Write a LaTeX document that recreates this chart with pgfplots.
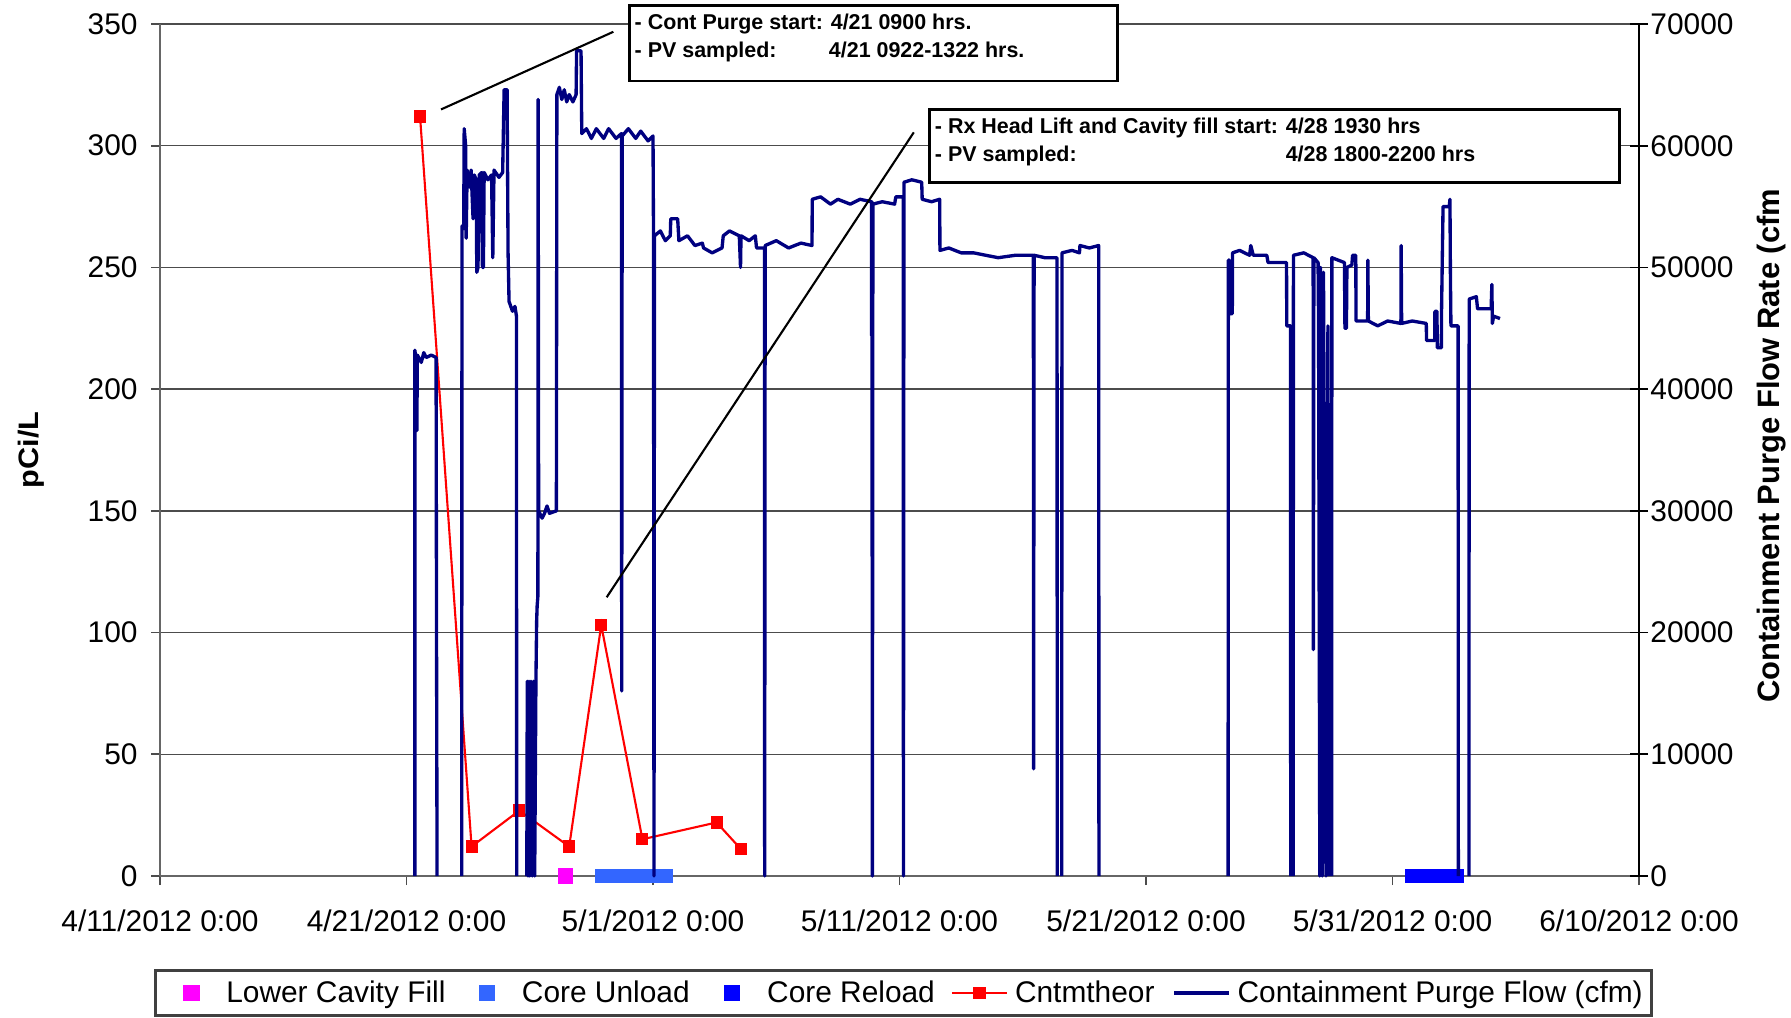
\documentclass[border=0pt]{standalone}
\usepackage{pgfplots}
\pgfplotsset{compat=1.18}
\usepackage{fontspec}
\setmainfont{Liberation Sans}
\definecolor{navyflow}{RGB}{0,0,128}
\definecolor{cunload}{RGB}{51,102,255}
\definecolor{creload}{RGB}{0,0,255}
\definecolor{lcf}{RGB}{255,0,255}
\definecolor{cred}{RGB}{255,0,0}

\pgfplotstableread{
d flow
10.34 0
10.34 43200
10.37 42600
10.40 42800
10.42 36600
10.44 42800
10.60 42200
10.70 43000
10.80 42600
11.00 42800
11.20 42600
11.22 17800
11.24 0
11.25 nan
12.24 0
12.25 53400
12.32 53200
12.34 61400
12.40 60000
12.42 52400
12.46 58000
12.55 56600
12.62 58000
12.70 54000
12.75 57600
12.83 57200
12.85 49600
12.90 50000
12.95 57600
13.05 57800
13.08 50000
13.12 50000
13.15 57800
13.30 57200
13.45 57600
13.50 50800
13.55 58000
13.75 57400
13.90 57800
13.96 64600
14.08 64600
14.12 51200
14.16 47200
14.30 46400
14.40 46800
14.46 46000
14.47 0
14.48 nan
14.88 0
14.90 16000
14.93 0
14.97 16000
15.00 0
15.05 16000
15.10 0
15.15 16000
15.20 0
15.25 16000
15.28 21000
15.30 22200
15.33 23000
15.34 63800
15.36 30000
15.50 29400
15.60 29800
15.70 30400
15.80 29800
16.08 30000
16.10 64200
16.20 64800
16.30 63800
16.40 64600
16.50 63600
16.60 64200
16.75 63600
16.88 64200
16.90 67800
17.08 67800
17.11 61000
17.30 61400
17.50 60600
17.70 61400
18.00 60600
18.20 61400
18.50 60600
18.72 61000
18.73 15200
18.75 60800
19.00 61400
19.30 60600
19.50 61200
19.80 60400
20.00 60800
20.02 52800
20.04 0
20.06 52600
20.30 53000
20.50 52200
20.70 52600
20.72 54000
21.00 54000
21.05 52200
21.40 52600
21.70 51800
22.00 52000
22.05 51600
22.40 51200
22.80 51600
22.85 52600
23.10 53000
23.50 52600
23.55 50000
23.57 52600
23.90 52200
24.15 52600
24.20 51600
24.52 51600
24.53 0
24.55 51800
25.00 52200
25.50 51600
26.00 52000
26.45 51800
26.46 55600
26.80 55800
27.20 55200
27.50 55600
28.00 55200
28.40 55600
28.86 55400
28.87 44400
28.88 55400
28.90 0
28.92 55200
29.30 55400
29.80 55200
29.85 55800
30.15 55800
30.16 0
30.18 57000
30.50 57200
30.90 57000
30.92 55600
31.30 55400
31.63 55600
31.64 51400
32.00 51600
32.50 51200
33.00 51200
33.50 51000
34.00 50800
34.70 51000
35.43 51000
35.44 8800
35.46 51000
35.90 50800
36.39 50800
36.40 0
36.41 nan
36.58 0
36.59 51200
37.00 51400
37.30 51200
37.32 51800
37.70 51600
38.08 51800
38.09 0
38.10 nan
43.33 0
43.34 50600
43.38 50600
43.39 46200
43.50 46200
43.51 51200
43.80 51400
44.20 51000
44.25 51800
44.35 51000
44.90 51000
44.95 50400
45.70 50400
45.71 45200
45.86 45200
45.87 0
45.88 nan
45.97 0
45.98 51000
46.40 51200
46.78 50800
46.79 18600
46.81 50800
46.98 50400
47.00 45200
47.05 0
47.08 50000
47.15 0
47.20 49600
47.30 0
47.38 45200
47.42 0
47.43 nan
47.53 0
47.54 50800
48.05 50400
48.07 45000
48.13 45000
48.15 50000
48.35 50200
48.38 51000
48.51 51000
48.52 45600
48.99 45600
49.00 50600
49.02 45600
49.40 45200
49.80 45600
50.34 45400
50.35 51800
50.37 45400
50.80 45600
51.37 45400
51.38 44000
51.71 44000
51.72 46400
51.80 46400
51.82 43400
51.98 43400
51.99 46600
52.05 55000
52.30 55000
52.33 55600
52.35 49000
52.37 45200
52.66 45200
52.67 0
52.68 nan
53.10 0
53.11 47400
53.40 47600
53.45 46600
54.00 46600
54.03 48600
54.05 45400
54.10 46000
54.36 45800
}\flowtable

\pgfplotsset{
  markleg/.style={legend image code/.code={\path[draw=none,fill=none] (0cm,0cm) -- (0.35cm,0cm); \draw[##1] plot coordinates {(0cm,0cm)};}},
  markleg first/.style={legend image code/.code={\path[draw=none,fill=none] (-0.27cm,0cm) -- (0.35cm,0cm); \draw[##1] plot coordinates {(0cm,0cm)};}},
  lineleg/.style={legend image code/.code={\draw[mark repeat=2, mark phase=2, ##1] plot coordinates {(0cm,0cm)(0.275cm,0cm)(0.55cm,0cm)};}},
  base/.style={width=14.79cm, height=8.52cm, scale only axis, xmin=0, xmax=60,
    at={(0,0)}, anchor=south west,
    /pgf/number format/assume math mode=true,
    /pgf/number format/1000 sep={},
    tick label style={font=\fontsize{8.5}{10}\selectfont},
  },
}

\begin{document}
\begin{tikzpicture}
\begin{axis}[base,
  ymin=0, ymax=350, ytick={0,50,...,350},
  axis x line*=bottom, axis y line*=left,
  axis line style={black!60, line width=0.8pt},
  xtick={0,10,...,60},
  xticklabels={4/11/2012 0:00, 4/21/2012 0:00, 5/1/2012 0:00, 5/11/2012 0:00, 5/21/2012 0:00, 5/31/2012 0:00, 6/10/2012 0:00},
  tick align=outside, major tick length=0.09cm,
  tick style={black!70, line width=0.5pt},
  xticklabel style={yshift=-0.12cm},
  yticklabel style={xshift=-0.01cm},
  ymajorgrids, major grid style={black!70, line width=0.4pt},
  clip=false,
  ylabel={\scalebox{1.09}[1]{pCi/L}},
  ylabel style={at={(axis description cs:-0.0872,0.5)}, anchor=center, inner sep=0pt, font=\fontsize{8}{9}\selectfont\bfseries},
  legend columns=-1,
  legend style={at={(-0.0041,-0.109)}, anchor=north west, draw=black!75, line width=0.8pt,
    inner xsep=0.09cm, inner ysep=0.06cm,
    font=\fontsize{8.5}{10}\selectfont,
    nodes={inner sep=0pt, text depth=0.2em, text height=0.75em},
    /tikz/column 1/.style={column sep=0cm},
    /tikz/column 2/.style={column sep=0.35cm},
    /tikz/column 3/.style={column sep=0cm},
    /tikz/column 4/.style={column sep=0.36cm},
    /tikz/column 5/.style={column sep=0cm},
    /tikz/column 6/.style={column sep=0.16cm},
    /tikz/column 7/.style={column sep=0.07cm},
    /tikz/column 8/.style={column sep=0.18cm},
    /tikz/column 9/.style={column sep=0.07cm},
  },
]
\addplot[only marks, mark=square*, mark size=0.07cm, color=lcf, markleg first]
  coordinates {(16.46,0)};
\addlegendentry{Lower Cavity Fill}
\addplot[only marks, mark=square*, mark size=0.065cm, color=cunload, markleg]
  coordinates {(17.95,0)(18.05,0)(18.15,0)(18.25,0)(18.35,0)(18.45,0)(18.55,0)(18.65,0)(18.75,0)(18.85,0)(18.95,0)(19.05,0)(19.15,0)(19.25,0)(19.35,0)(19.45,0)(19.55,0)(19.65,0)(19.75,0)(19.85,0)(19.95,0)(20.05,0)(20.15,0)(20.25,0)(20.35,0)(20.45,0)(20.50,0)};
\addlegendentry{Core Unload}
\addplot[only marks, mark=square*, mark size=0.065cm, color=creload, markleg]
  coordinates {(50.8,0)(50.9,0)(51.0,0)(51.1,0)(51.2,0)(51.3,0)(51.4,0)(51.5,0)(51.6,0)(51.7,0)(51.8,0)(51.9,0)(52.0,0)(52.1,0)(52.2,0)(52.3,0)(52.4,0)(52.5,0)(52.6,0)};
\addlegendentry{Core Reload}
\addplot[color=cred, line width=0.6pt, mark=square*, mark size=0.05cm, mark options={solid}, lineleg]
  coordinates {(10.55,312)(12.64,12.1)(14.58,26.9)(16.6,12.1)(17.9,103.1)(19.57,15.1)(22.58,22)(23.57,11)};
\addlegendentry{Cntmtheor}
\addlegendimage{navyflow, line width=0.9pt, lineleg}
\addlegendentry{Containment Purge Flow (cfm)}
\end{axis}

\begin{axis}[base,
  ymin=0, ymax=70000, ytick={0,10000,...,70000},
  scaled y ticks=false,
  axis x line=none, axis y line*=right,
  axis line style={black, line width=0.5pt},
  tick align=center, major tick length=0.18cm,
  tick style={black, line width=0.5pt},
  yticklabel style={xshift=-0.1cm},
  clip=false,
  ylabel={Containment Purge Flow Rate (cfm},
  ylabel style={at={(axis description cs:1.0899,0.505)}, anchor=center, inner sep=0pt, font=\fontsize{8.8}{10}\selectfont\bfseries},
]
\addplot[navyflow, line width=0.95pt, line join=round, unbounded coords=jump] table[x=d, y=flow] {\flowtable};
% annotations
\draw[black, line width=0.6pt] (axis cs:11.40,62980) -- (axis cs:18.39,69360);
\draw[black, line width=0.6pt] (axis cs:18.12,22900) -- (axis cs:30.58,61100);
\draw[black, line width=0.8pt, fill=white] (axis cs:19.04,65320) rectangle (axis cs:38.83,71520);
\draw[black, line width=0.8pt, fill=white] (axis cs:31.23,56960) rectangle (axis cs:59.21,62980);
\begin{scope}[every node/.style={font=\fontsize{6.1}{7}\selectfont\bfseries, inner sep=0pt, anchor=west, text height=0.716em, text depth=0pt}]
\node at (axis cs:19.23,70600) {- Cont Purge start: 4/21 0900 hrs.};
\node at (axis cs:19.23,68250) {- PV sampled:};
\node at (axis cs:27.11,68250) {4/21 0922-1322 hrs.};
\node at (axis cs:31.41,62050) {- Rx Head Lift and Cavity fill start: 4/28 1930 hrs};
\node at (axis cs:31.41,59700) {- PV sampled:};
\node at (axis cs:45.64,59700) {4/28 1800-2200 hrs};
\end{scope}
\end{axis}
\path (-1.60,-1.39) rectangle (16.31,8.76);
\end{tikzpicture}
\end{document}
